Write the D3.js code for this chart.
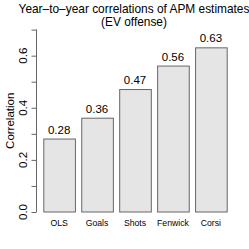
<!DOCTYPE html>
<html>
<head>
<meta charset="utf-8">
<script src="https://cdn.jsdelivr.net/npm/d3@7"></script>
<style>
  body { margin: 0; background: #fff; }
  svg { display: block; font-family: "Liberation Sans", Arial, sans-serif; }
</style>
</head>
<body>
<div id="chart"></div>
<script>
// data
var models = ["OLS", "Goals", "Shots", "Fenwick", "Corsi"];
var correlations = [0.28, 0.36, 0.47, 0.56, 0.63];
var yTicks = [0, 0.1, 0.2, 0.3, 0.4, 0.5, 0.6, 0.7];
var yTickLabels = [0, 0.2, 0.4, 0.6];

var width = 249, height = 249;

var svg = d3.select("#chart")
  .append("svg")
  .attr("width", width)
  .attr("height", height);

// plot region (R style, 4% padding round the data range)
var xScale = d3.scaleBand()
  .domain(models)
  .range([43.3, 226.7])
  .paddingInner(0.2 / 1.2)
  .paddingOuter(0);

var yScale = d3.scaleLinear()
  .domain([0, 0.7])
  .range([212, 29.6]);

// bars
svg.selectAll("rect.bar")
  .data(models)
  .enter()
  .append("rect")
  .attr("class", "bar")
  .attr("x", function(d) { return xScale(d) + 0.5; })
  .attr("y", function(d, i) { return yScale(correlations[i]); })
  .attr("width", xScale.bandwidth())
  .attr("height", function(d, i) { return yScale(0) - yScale(correlations[i]); })
  .attr("fill", "#e5e5e5")
  .attr("stroke", "#666")
  .attr("stroke-width", 1);

// value labels above bars
svg.selectAll("text.val")
  .data(models)
  .enter()
  .append("text")
  .attr("class", "val")
  .attr("x", function(d) { return xScale(d) + xScale.bandwidth() / 2; })
  .attr("y", function(d, i) { return yScale(correlations[i]) - 5.5; })
  .attr("text-anchor", "middle")
  .attr("font-size", 11.5)
  .text(function(d, i) { return correlations[i].toFixed(2); });

// category labels
svg.selectAll("text.cat")
  .data(models)
  .enter()
  .append("text")
  .attr("class", "cat")
  .attr("x", function(d) { return xScale(d) + xScale.bandwidth() / 2; })
  .attr("y", 225.5)
  .attr("text-anchor", "middle")
  .attr("font-size", 8.7)
  .text(function(d) { return d; });

// y axis, R look: rotated labels, every other tick labelled
var yAxis = d3.axisLeft(yScale)
  .tickValues(yTicks)
  .tickSize(5)
  .tickFormat("");

var gy = svg.append("g")
  .attr("transform", "translate(36.5,0)")
  .call(yAxis);
gy.select(".domain").attr("stroke", "#666").attr("d", "M0," + yScale(0.7) + "V" + yScale(0));
gy.selectAll(".tick line").attr("stroke", "#666");

svg.selectAll("text.ytick")
  .data(yTickLabels)
  .enter()
  .append("text")
  .attr("class", "ytick")
  .attr("text-anchor", "middle")
  .attr("font-size", 11.5)
  .attr("transform", function(d) { return "translate(26.7," + yScale(d) + ")rotate(-90)"; })
  .text(function(d) { return d.toFixed(1); });

// axis title
svg.append("text")
  .attr("text-anchor", "middle")
  .attr("font-size", 11.5)
  .attr("transform", "translate(14,120.8)rotate(-90)")
  .text("Correlation");

// main title
var title = svg.append("text")
  .attr("text-anchor", "middle")
  .attr("font-size", 11.9);
title.append("tspan").attr("x", 134).attr("y", 13.3).text("Year\u2013to\u2013year correlations of APM estimates");
title.append("tspan").attr("x", 134).attr("y", 26).text("(EV offense)");
</script>
</body>
</html>
